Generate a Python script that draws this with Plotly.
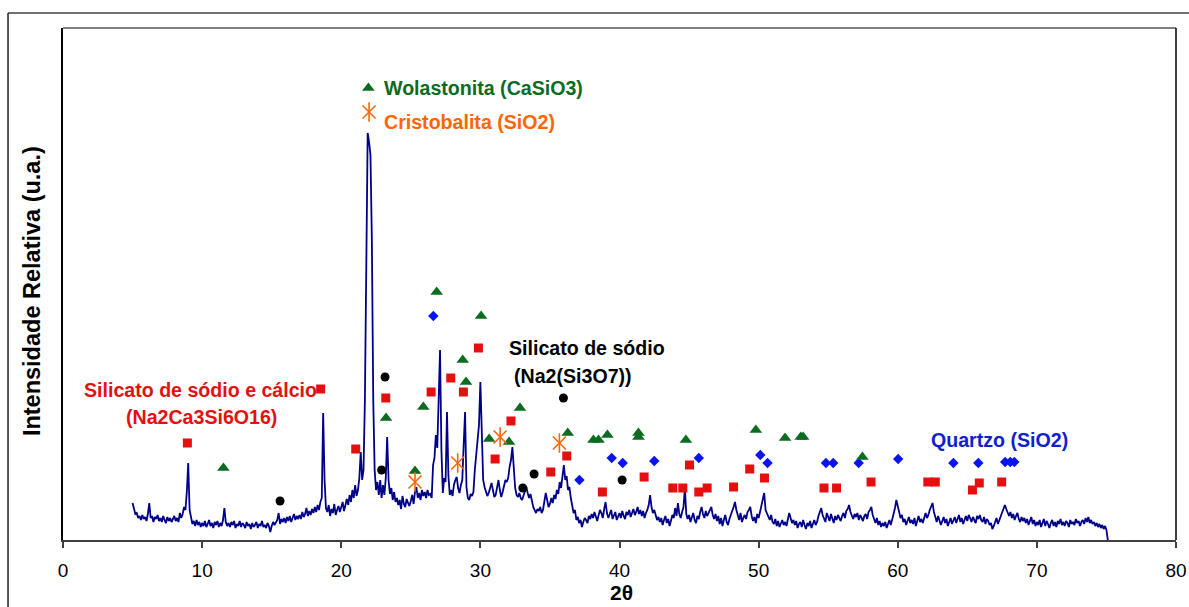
import plotly.graph_objects as go

# ---- XRD scan (2-theta from 5.0 deg, step 0.1 deg) ----
SCAN_START = 5.0
SCAN_STEP = 0.1
intensity = [
    37, 30, 26, 27, 22, 24, 20, 25, 21, 23,
    19, 26, 37, 22, 24, 18, 23, 21, 25, 19,
    22, 18, 24, 20, 17, 23, 19, 22, 18, 21,
    24, 19, 22, 18, 27, 22, 26, 33, 30, 48,
    77, 30, 22, 16, 19, 14, 20, 15, 18, 13,
    17, 14, 19, 13, 16, 20, 14, 17, 12, 18,
    15, 19, 13, 17, 14, 20, 32, 18, 14, 17,
    13, 18, 15, 19, 12, 16, 14, 19, 13, 17,
    15, 12, 18, 14, 16, 11, 17, 13, 15, 18,
    12, 16, 14, 19, 13, 15, 12, 17, 14, 8,
    14, 18, 15, 17, 20, 27, 16, 21, 18, 22,
    17, 23, 19, 24, 18, 22, 26, 20, 24, 21,
    25, 21, 28, 23, 26, 32, 24, 29, 25, 31,
    27, 33, 28, 35, 30, 38, 42, 127, 60, 32,
    28, 35, 24, 31, 27, 36, 25, 30, 34, 28,
    33, 38, 29, 36, 41, 35, 45, 38, 50, 42,
    55, 44, 50, 62, 88, 60, 70, 140, 300, 407,
    398, 385, 300, 140, 70, 50, 58, 45, 60, 42,
    55, 45, 62, 103, 60, 46, 52, 40, 48, 38,
    42, 35, 40, 31, 44, 36, 33, 41, 37, 34,
    39, 45, 36, 48, 53, 42, 47, 40, 50, 44,
    48, 42, 50, 45, 46, 42, 75, 82, 105, 92,
    140, 190, 90, 47, 62, 58, 128, 65, 45, 50,
    44, 55, 60, 63, 52, 47, 55, 60, 95, 128,
    53, 42, 40, 46, 44, 48, 70, 85, 95, 115,
    158, 100, 60, 53, 48, 44, 47, 52, 57, 50,
    43, 45, 52, 60, 50, 43, 48, 55, 60, 58,
    62, 73, 80, 93, 65, 52, 45, 43, 47, 42,
    40, 44, 50, 53, 47, 42, 46, 38, 33, 30,
    27, 31, 29, 33, 27, 30, 38, 47, 40, 33,
    36, 42, 37, 45, 41, 50, 46, 58, 52, 62,
    75, 60, 64, 50, 53, 42, 36, 27, 30, 20,
    23, 17, 20, 13, 18, 22, 20, 17, 24, 21,
    26, 22, 28, 24, 19, 25, 30, 27, 22, 31,
    38, 27, 22, 26, 30, 21, 25, 28, 20, 24,
    27, 22, 29, 24, 21, 28, 25, 30, 23, 27,
    31, 25, 28, 33, 26, 30, 24, 29, 22, 27,
    30, 35, 45, 33, 27, 30, 24, 20, 23, 18,
    22, 15, 20, 24, 17, 21, 14, 19, 25, 22,
    32, 24, 37, 26, 22, 28, 33, 52, 26, 21,
    25, 18, 23, 27, 20, 17, 24, 21, 28, 33,
    26, 22, 29, 24, 27, 30, 33, 25, 21, 26,
    19, 24, 16, 22, 14, 20, 25, 18, 15, 21,
    26, 29, 33, 38, 30, 24, 20, 27, 18, 22,
    25, 21, 28, 30, 33, 24, 19, 23, 17, 26,
    22, 28, 34, 40, 47, 30, 27, 24, 20, 25,
    18, 16, 21, 14, 19, 13, 17, 20, 15, 18,
    14, 21, 27, 22, 17, 20, 15, 19, 12, 16,
    18, 13, 20, 15, 11, 17, 14, 19, 12, 16,
    20, 15, 18, 24, 28, 32, 25, 22, 18, 27,
    23, 19, 26, 21, 17, 24, 20, 25, 22, 19,
    24, 27, 22, 29, 31, 35, 28, 24, 21, 26,
    23, 27, 20, 25, 22, 19, 24, 26, 21, 28,
    30, 33, 25, 20, 17, 22, 15, 19, 13, 17,
    14, 18, 12, 16, 20, 15, 22, 26, 32, 40,
    34, 27, 22, 25, 18, 21, 15, 19, 23, 17,
    20, 16, 22, 14, 19, 24, 18, 21, 17, 23,
    27, 22, 25, 30, 34, 37, 28, 22, 18, 24,
    20, 15, 19, 23, 17, 21, 14, 18, 22, 16,
    19, 23, 17, 21, 25, 18, 22, 16, 20, 24,
    19, 25, 22, 18, 23, 20, 17, 24, 21, 25,
    20, 18, 23, 16, 21, 19, 15, 17, 11, 14,
    18, 22, 16, 20, 25, 29, 33, 35, 31, 27,
    24, 28, 22, 26, 20, 24, 27, 21, 18, 23,
    19, 22, 17, 21, 15, 19, 23, 16, 20, 14,
    18, 15, 20, 13, 17, 21, 14, 19, 16, 12,
    17, 20, 14, 18, 13, 19, 16, 21, 15, 18,
    14, 19, 17, 13, 20, 16, 18, 15, 21, 17,
    19, 14, 18, 20, 16, 22, 18, 23, 17, 20,
    16, 18, 14, 17, 13, 16, 12, 15, 11, 14,
    10, 0,
]
two_theta = [round(SCAN_START + i * SCAN_STEP, 2) for i in range(len(intensity))]

# ---- phase identification marks ----
wollastonite_x = [11.53, 23.22, 25.3, 25.9, 26.86, 28.73, 28.97, 30.05, 30.63, 32.06,
                  32.85, 36.28, 38.13, 38.49, 39.13, 41.36, 41.36, 44.77, 49.8, 51.9,
                  53.03, 53.2, 57.46]
wollastonite_y = [72, 122, 69, 133, 248, 180, 158, 224, 101, 98,
                  132, 107, 100, 100, 105, 107, 103, 100, 110, 102,
                  103, 103, 83]

cristobalite_x = [25.3, 28.37, 31.42, 35.68]
cristobalite_y = [58, 77, 103, 97]

na_ca_silicate_x = [8.94, 18.52, 21.04, 23.2, 26.46, 27.87, 28.78, 29.86, 31.06, 32.2,
                    35.06, 36.21, 38.77, 41.77, 43.83, 44.55, 45.03, 45.7, 46.3, 48.2,
                    49.36, 50.42, 54.7, 55.6, 58.08, 62.16, 62.7, 65.37, 65.86, 67.47]
na_ca_silicate_y = [97, 151, 91, 142, 148, 162, 148, 192, 81, 119,
                    68, 84, 48, 63, 52, 52, 75, 48, 52, 53,
                    71, 62, 52, 52, 58, 58, 58, 50, 57, 58]

na_silicate_x = [15.6, 22.9, 23.15, 33.05, 33.86, 35.97, 40.19]
na_silicate_y = [39, 70, 163, 52, 66, 142, 60]

quartz_x = [26.62, 37.12, 39.44, 40.23, 42.5, 45.7, 50.12, 50.64, 54.84, 55.36,
            57.19, 60.03, 64.0, 65.79, 67.72, 68.09, 68.38]
quartz_y = [224, 60, 82, 77, 79, 82, 85, 77, 77, 77,
            77, 81, 77, 77, 78, 78, 78]

# key symbols placed next to the phase names at the top
key_triangle_x, key_triangle_y = [21.95], [452]
key_star_x, key_star_y = [22.0], [428]

GREEN = "#0b6b1f"
ORANGE = "#ff6600"
RED = "#e60f0f"
BLUE = "#0a14f0"
NAVY = "#000088"
FONT = "Liberation Sans, Arial, sans-serif"

fig = go.Figure()

fig.add_trace(go.Scatter(x=two_theta, y=intensity, mode="lines",
                         line=dict(color=NAVY, width=1.8), hoverinfo="skip"))


def marks(x, y, symbol, color, size, line=None):
    m = dict(symbol=symbol, color=color, size=size)
    if line:
        m["line"] = line
    fig.add_trace(go.Scatter(x=x, y=y, mode="markers", marker=m, hoverinfo="skip"))


def star(x, y):
    marks(x, y, "x-thin-open", ORANGE, 13, dict(color=ORANGE, width=1.6))
    marks(x, y, "line-ns-open", ORANGE, 14, dict(color=ORANGE, width=1.6))


marks(na_ca_silicate_x, na_ca_silicate_y, "square", RED, 9)
marks(na_silicate_x, na_silicate_y, "circle", "black", 9)
marks(quartz_x, quartz_y, "diamond", BLUE, 8)
marks(wollastonite_x, wollastonite_y, "triangle-up", GREEN, 11)
star(cristobalite_x, cristobalite_y)
marks(key_triangle_x, key_triangle_y, "triangle-up", GREEN, 11)
star(key_star_x, key_star_y)

labels = [
    ("Silicato de sódio e cálcio", 9.85, 150, "center", RED),
    ("(Na2Ca3Si6O16)", 9.95, 123, "center", RED),
    ("Wolastonita (CaSiO3)", 22.95, 452, "left", GREEN),
    ("Cristobalita (SiO2)", 22.95, 418, "left", ORANGE),
    ("Silicato de sódio", 31.9, 192, "left", "black"),
    ("(Na2(Si3O7))", 32.3, 164, "left", "black"),
    ("Quartzo (SiO2)", 67.3, 100, "center", "#1020d0"),
]
annotations = [
    dict(text=t, x=x, y=y, xref="x", yref="y", xanchor=a, yanchor="middle",
         showarrow=False, font=dict(family=FONT, size=19.6, color=c, weight="bold"))
    for t, x, y, a, c in labels
]
annotations.append(dict(text="Intensidade Relativa (u.a.)", textangle=-90,
                        x=-0.0279, y=0.486, xref="paper", yref="paper",
                        xanchor="center", yanchor="middle", showarrow=False,
                        font=dict(family=FONT, size=23.5, color="black", weight="bold")))
annotations.append(dict(text="2θ", x=0.502, y=-0.103, xref="paper", yref="paper",
                        xanchor="center", yanchor="middle", showarrow=False,
                        font=dict(family=FONT, size=21, color="black", weight="bold")))

# chart frame (outer) and plot-area border
shapes = [
    dict(type="line", xref="paper", yref="paper", x0=-0.0494, y0=1.0293, x1=1.02, y1=1.0293,
         line=dict(color="#404040", width=1.5)),
    dict(type="line", xref="paper", yref="paper", x0=-0.0494, y0=1.0293, x1=-0.0494, y1=-0.14,
         line=dict(color="#202020", width=1.5)),
    dict(type="line", xref="paper", yref="paper", x0=0, y0=1, x1=1, y1=1,
         line=dict(color="#808080", width=2)),
    dict(type="line", xref="paper", yref="paper", x0=1, y0=1, x1=1, y1=0,
         line=dict(color="black", width=1.5)),
]

fig.update_layout(
    width=1189, height=607,
    margin=dict(l=63, r=13, t=28, b=67, autoexpand=False),
    paper_bgcolor="white", plot_bgcolor="white",
    showlegend=False,
    annotations=annotations, shapes=shapes,
    xaxis=dict(range=[0, 80], tickmode="array", tickvals=[0, 10, 20, 30, 40, 50, 60, 70, 80],
               ticks="outside", ticklen=6, tickwidth=1.5, tickcolor="#404040",
               showline=True, linecolor="#404040", linewidth=2, automargin=False,
               showgrid=False, zeroline=False, ticklabelstandoff=6,
               tickfont=dict(family=FONT, size=19, color="black")),
    yaxis=dict(range=[0, 512], showticklabels=False, ticks="", automargin=False,
               showline=True, linecolor="black", linewidth=1.5,
               showgrid=False, zeroline=False),
)

fig.write_html("out.html")
